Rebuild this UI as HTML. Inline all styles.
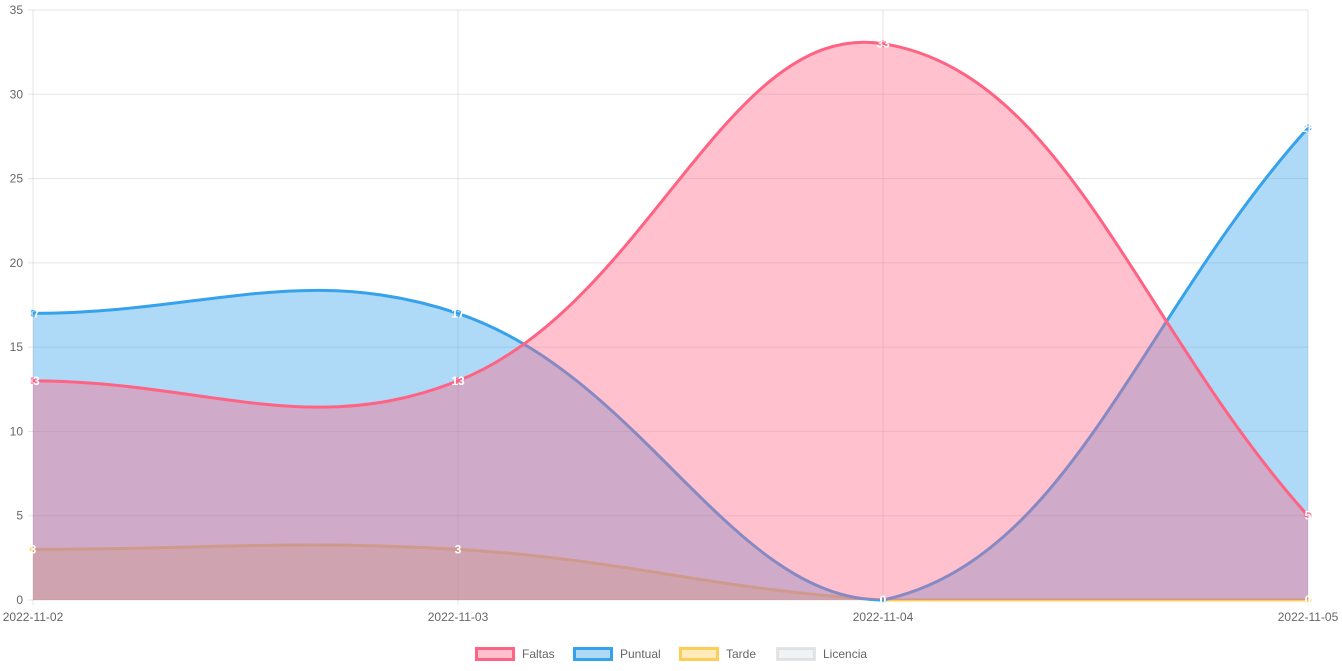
<!DOCTYPE html>
<html><head><meta charset="utf-8"><style>
html,body{margin:0;padding:0;background:#fff;}
svg{display:block;font-family:"Liberation Sans",Arial,sans-serif;}
</style></head><body>
<svg id="chart" width="1342" height="671" viewBox="0 0 1342 671">
<g id="grid"></g>
<g id="series"></g>
<g id="labels"></g>
<g id="axes"></g>
<g id="legend"></g>
</svg>
<script>
const categories = ["2022-11-02","2022-11-03","2022-11-04","2022-11-05"];
const faltas = [13,13,33,5];
const puntual = [17,17,0,28];
const tarde = [3,3,0,0];
const licencia = [0,0,0,0];
const yTicks = [0,5,10,15,20,25,30,35];
const seriesNames = ["Faltas","Puntual","Tarde","Licencia"];

const NS="http://www.w3.org/2000/svg";
const X0=33,X1=1308,Y0=600,Y1=10,YMAX=35;
const xs=i=>X0+(X1-X0)*i/(categories.length-1);
const ys=v=>Y0-(Y0-Y1)*v/YMAX;
function mk(tag,attrs,parent){const e=document.createElementNS(NS,tag);for(const k in attrs)e.setAttribute(k,attrs[k]);parent.appendChild(e);return e;}
const grid=document.getElementById('grid'),axes=document.getElementById('axes'),ser=document.getElementById('series'),lab=document.getElementById('labels'),leg=document.getElementById('legend');

yTicks.forEach(t=>{
  const y=ys(t);
  const l=mk('line',{x1:X0-5,x2:X1,y1:y,y2:y,stroke:'rgba(0,0,0,0.1)','stroke-width':1},grid);
  
  
  const tx=mk('text',{x:X0-10,y:y+4,'text-anchor':'end','font-size':12,fill:'#666'},axes);
  tx.textContent=t;
  
  
});
categories.forEach((c,i)=>{
  const x=xs(i);
  const l=mk('line',{x1:x,x2:x,y1:Y1,y2:Y0+5,stroke:'rgba(0,0,0,0.1)','stroke-width':1},grid);
  
  
  const tx=mk('text',{x:x,y:621,'text-anchor':'middle','font-size':12,fill:'#666'},axes);
  tx.textContent=c;
  
  
});

function curve(vals){
  const p=vals.map((v,i)=>[xs(i),ys(v)]);
  const t=0.4,cps=[];
  for(let i=0;i<p.length;i++){
    const pr=p[Math.max(0,i-1)],cu=p[i],nx=p[Math.min(p.length-1,i+1)];
    const d01=Math.hypot(cu[0]-pr[0],cu[1]-pr[1]),d12=Math.hypot(nx[0]-cu[0],nx[1]-cu[1]);
    let s01=d01/(d01+d12),s12=d12/(d01+d12);
    if(isNaN(s01))s01=0;if(isNaN(s12))s12=0;
    const fa=t*s01,fb=t*s12;
    cps.push({prev:[cu[0]-fa*(nx[0]-pr[0]),cu[1]-fa*(nx[1]-pr[1])],next:[cu[0]+fb*(nx[0]-pr[0]),cu[1]+fb*(nx[1]-pr[1])]});
  }
  let d=`M${p[0][0]},${p[0][1]}`;
  for(let i=1;i<p.length;i++){
    const a=cps[i-1].next,b=cps[i].prev;
    d+=` C${Math.min(Math.max(a[0],X0),X1)},${Math.min(Math.max(a[1],Y1),Y0)} ${Math.min(Math.max(b[0],X0),X1)},${Math.min(Math.max(b[1],Y1),Y0)} ${p[i][0]},${p[i][1]}`;
  }
  return {d,p};
}
const datasets=[[faltas,'255,99,132'],[puntual,'54,162,235'],[tarde,'255,205,86'],[licencia,'201,203,207']];
for(let k=datasets.length-1;k>=0;k--){
  const [vals,col]=datasets[k];
  const c=curve(vals);
  const area=mk('path',{d:c.d+` L${X1},${Y0} L${X0},${Y0} Z`,fill:`rgba(${col},0.4)`},ser);
  
  
  const line=mk('path',{d:c.d,fill:'none',stroke:`rgb(${col})`,'stroke-width':3,'stroke-opacity':k===3?0:1},ser);
  
  
  c.p.forEach((pt,i)=>{
    if(k===3)return;
    const dot=mk('circle',{cx:pt[0],cy:pt[1],r:3,fill:`rgba(${col},0.4)`,stroke:`rgb(${col})`,'stroke-width':1},ser);
    
    
    const tx=mk('text',{x:pt[0],y:pt[1]+4,'text-anchor':'middle','font-size':12,'font-weight':'bold',fill:'#fff'},lab);
    tx.textContent=vals[i];
    
    
  });
}
const lx=[475,573,679,776];
datasets.forEach(([v,col],k)=>{
  const g=mk('g',{},leg);
  
  
  mk('rect',{x:lx[k]+1.5,y:648.5,width:37,height:11,fill:`rgba(${col},${k===3?0.25:0.4})`,stroke:`rgba(${col},${k===3?0.5:1})`,'stroke-width':3},g);
  const tx=mk('text',{x:lx[k]+47,y:658,'font-size':12,fill:'#666'},g);
  tx.textContent=seriesNames[k];
});
</script>
</body></html>
